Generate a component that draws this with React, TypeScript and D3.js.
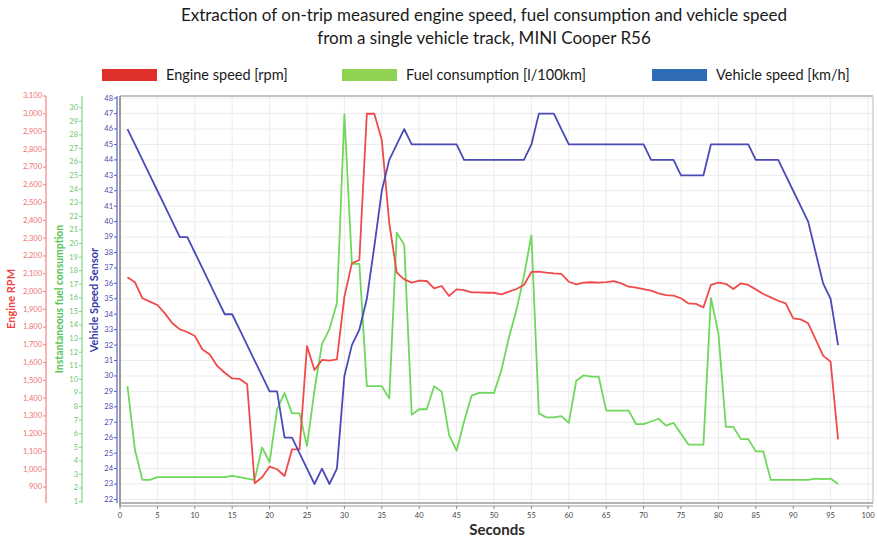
import React, { useEffect } from 'react';
import * as d3 from 'd3';

// one sample per second
const seconds = [
  1, 2, 3, 4, 5, 6, 7, 8, 9, 10, 11, 12, 13, 14, 15, 16, 17, 18, 19, 20,
  21, 22, 23, 24, 25, 26, 27, 28, 29, 30, 31, 32, 33, 34, 35, 36, 37, 38, 39, 40,
  41, 42, 43, 44, 45, 46, 47, 48, 49, 50, 51, 52, 53, 54, 55, 56, 57, 58, 59, 60,
  61, 62, 63, 64, 65, 66, 67, 68, 69, 70, 71, 72, 73, 74, 75, 76, 77, 78, 79, 80,
  81, 82, 83, 84, 85, 86, 87, 88, 89, 90, 91, 92, 93, 94, 95, 96,
];

const engineRpm = [
  2080, 2052, 1962, 1943, 1924, 1877, 1821, 1787, 1772, 1750, 1675, 1646, 1581, 1543, 1511, 1508, 1478, 921, 955, 1015,
  1000, 962, 1112, 1112, 1693, 1558, 1615, 1611, 1618, 1971, 2158, 2177, 3000, 3000, 2852, 2384, 2106, 2068, 2050, 2061,
  2059, 2018, 2031, 1975, 2012, 2008, 1995, 1995, 1993, 1993, 1984, 1999, 2014, 2037, 2110, 2112, 2106, 2102, 2099, 2055,
  2040, 2050, 2052, 2050, 2053, 2059, 2046, 2027, 2022, 2014, 2005, 1990, 1980, 1977, 1962, 1933, 1930, 1911, 2037, 2050,
  2043, 2014, 2046, 2037, 2012, 1986, 1967, 1948, 1933, 1849, 1843, 1821, 1731, 1639, 1605, 1168,
];

const fuelConsumption = [
  9.5, 4.8, 2.6, 2.6, 2.8, 2.8, 2.8, 2.8, 2.8, 2.8, 2.8, 2.8, 2.8, 2.8, 2.9, 2.8, 2.7, 2.6, 5.0, 3.9,
  7.8, 9.0, 7.5, 7.5, 5.1, 9.2, 12.6, 13.7, 15.6, 29.5, 18.5, 18.5, 9.5, 9.5, 9.5, 8.6, 20.8, 19.9, 7.4, 7.8,
  7.8, 9.5, 9.1, 5.9, 4.75, 6.9, 8.8, 9.0, 9.0, 9.0, 10.7, 13.1, 15.1, 17.6, 20.6, 7.5, 7.2, 7.2, 7.3, 6.8,
  9.9, 10.3, 10.2, 10.2, 7.7, 7.7, 7.7, 7.7, 6.7, 6.7, 6.9, 7.1, 6.6, 6.8, 6.0, 5.2, 5.2, 5.2, 16.0, 13.4,
  6.5, 6.5, 5.6, 5.6, 4.7, 4.7, 2.6, 2.6, 2.6, 2.6, 2.6, 2.6, 2.7, 2.65, 2.7, 2.3,
];

const vehicleSpeed = [
  46, 45, 44, 43, 42, 41, 40, 39, 39, 38, 37, 36, 35, 34, 34, 33, 32, 31, 30, 29,
  29, 26, 26, 25, 24, 23, 24, 23, 24, 30, 32, 33, 35, 38.4, 42, 44, 45, 46, 45, 45,
  45, 45, 45, 45, 45, 44, 44, 44, 44, 44, 44, 44, 44, 44, 45, 47, 47, 47, 46, 45,
  45, 45, 45, 45, 45, 45, 45, 45, 45, 45, 44, 44, 44, 44, 43, 43, 43, 43, 45, 45,
  45, 45, 45, 45, 44, 44, 44, 44, 43, 42, 41, 40, 38, 36, 35, 32,
];

const secondTicks = d3.range(0, 101, 5);
const rpmTicks = d3.range(900, 3101, 100);
const fuelTicks = d3.range(1, 31, 1);
const speedTicks = d3.range(22, 49, 1);

const legendItems = [
  { label: 'Engine speed [rpm]', color: '#e0302c' },
  { label: 'Fuel consumption [l/100km]', color: '#8fd150' },
  { label: 'Vehicle speed [km/h]', color: '#2f6cb6' },
];

const RED = '#f04a4a';
const GREEN = '#6fd85c';
const BLUE = '#4a4ab8';

export default function App() {
  useEffect(() => {
    document.body.style.margin = '0';
  }, []);

  const width = 877;
  const height = 543;
  const top = 96;
  const bottom = 503;
  const left = 120;
  const right = 873;

  const x = d3.scaleLinear().domain([0, 100]).range([left, 868]);
  const yRpm = d3.scaleLinear().domain([810, 3100]).range([bottom, top]);
  const yFuel = d3.scaleLinear().domain([0.9, 30.86]).range([bottom, top]);
  const ySpeed = d3.scaleLinear().domain([21.77, 48.14]).range([bottom, top]);

  const lineFor = (values: number[], y: d3.ScaleLinear<number, number>) =>
    d3.line<number>()
      .x((_, i) => x(seconds[i]))
      .y(d => y(d))(values) || '';

  const fmt = d3.format(',');
  const font = 'Lato, "Open Sans", sans-serif';

  const leftAxis = (
    ticks: number[],
    scale: d3.ScaleLinear<number, number>,
    ax: number,
    color: string,
    textColor: string,
    format: (v: number) => string,
  ) => (
    <g>
      <line x1={ax} x2={ax} y1={top} y2={bottom} stroke={color} strokeWidth={1.2} />
      {ticks.map(t => (
        <g key={t} transform={`translate(0,${scale(t)})`}>
          <line x1={ax - 3} x2={ax} stroke={color} />
          <text x={ax - 4} dy="0.32em" textAnchor="end" fontSize={7.5} fill={textColor} fontFamily={font}>
            {format(t)}
          </text>
        </g>
      ))}
    </g>
  );

  const legendX = [102, 342, 652];

  return (
    <svg width={width} height={height} style={{ display: 'block', background: '#fff' }}>
      {/* title */}
      <text x={484} y={21} textAnchor="middle" fontSize={17} fill="#1a1a1a" fontFamily={font}>
        Extraction of on-trip measured engine speed, fuel consumption and vehicle speed
      </text>
      <text x={484} y={44} textAnchor="middle" fontSize={17} fill="#1a1a1a" fontFamily={font}>
        from a single vehicle track, MINI Cooper R56
      </text>

      {/* legend */}
      {legendItems.map((d, i) => (
        <g key={d.label} transform={`translate(${legendX[i]},69)`}>
          <rect width={55} height={12} fill={d.color} />
          <text x={64} y={11} fontSize={14.5} fill="#1a1a1a" fontFamily={font}>{d.label}</text>
        </g>
      ))}

      {/* grid */}
      {secondTicks.map(t => (
        <line key={'gx' + t} x1={x(t)} x2={x(t)} y1={top} y2={bottom} stroke="#ececec" />
      ))}
      {speedTicks.map(t => (
        <line key={'gy' + t} x1={left} x2={right} y1={ySpeed(t)} y2={ySpeed(t)} stroke="#ececec" />
      ))}

      {/* frame */}
      <line x1={left} x2={right} y1={top} y2={top} stroke="#c4c4c4" strokeWidth={2} />
      <line x1={right} x2={right} y1={top} y2={bottom} stroke="#d0d0d0" strokeWidth={1.5} />
      <line x1={left} x2={left} y1={top} y2={bottom + 3} stroke="#9a9a9a" strokeWidth={2} />
      <line x1={left} x2={right} y1={bottom} y2={bottom} stroke="#9a9a9a" strokeWidth={1.5} />
      <line x1={left} x2={right} y1={bottom + 3} y2={bottom + 3} stroke="#9a9a9a" strokeWidth={1.2} />

      {/* y axes */}
      {leftAxis(rpmTicks, yRpm, 46, '#f58080', '#f07070', fmt)}
      {leftAxis(fuelTicks, yFuel, 82, '#7fd67f', '#6cc86c', String)}
      {leftAxis(speedTicks, ySpeed, 117, '#5a5ac8', '#4a4ab0', String)}

      <text transform="translate(15,299) rotate(-90)" textAnchor="middle" fontSize={11} fontWeight="bold" fill="#f04040" fontFamily={font}>
        Engine RPM
      </text>
      <text transform="translate(63,299) rotate(-90)" textAnchor="middle" fontSize={10.4} fontWeight="bold" fill="#55c455" fontFamily={font}>
        Instantaneous fuel consumption
      </text>
      <text transform="translate(98,300) rotate(-90)" textAnchor="middle" fontSize={11} fontWeight="bold" fill="#3a3aa8" fontFamily={font}>
        Vehicle Speed Sensor
      </text>

      {/* x axis */}
      {secondTicks.map(t => (
        <g key={'xt' + t} transform={`translate(${x(t)},${bottom + 3})`}>
          <line y1={0} y2={3} stroke="#888" />
          <text y={12} textAnchor="middle" fontSize={7.5} fill="#444" fontFamily={font}>{t}</text>
        </g>
      ))}
      <text x={497} y={535} textAnchor="middle" fontSize={15} fontWeight="bold" fill="#2a2a2a" fontFamily={font}>
        Seconds
      </text>

      {/* series */}
      <path d={lineFor(fuelConsumption, yFuel)} fill="none" stroke={GREEN} strokeWidth={1.8} strokeLinejoin="round" />
      <path d={lineFor(engineRpm, yRpm)} fill="none" stroke={RED} strokeWidth={1.8} strokeLinejoin="round" />
      <path d={lineFor(vehicleSpeed, ySpeed)} fill="none" stroke={BLUE} strokeWidth={1.8} strokeLinejoin="round" />
    </svg>
  );
}
